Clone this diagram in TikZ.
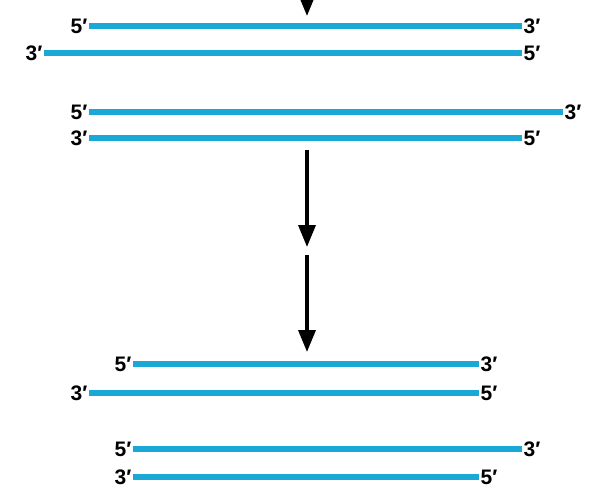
\documentclass[tikz,border=0pt]{standalone}
\usepackage{fontspec}
\setmainfont{Liberation Sans}
\usetikzlibrary{arrows.meta,calc}
\definecolor{strandcolor}{RGB}{26,168,214}

\tikzset{
  strand/.style={line width=6.5pt, draw=strandcolor},
  endlabel/.style={font=\bfseries\fontsize{21}{21}\selectfont, inner sep=1.5pt},
  steparrow/.style={line width=3.5pt, -{Triangle[length=22pt,width=17pt]}}
}

\begin{document}
\begin{tikzpicture}[x=1pt,y=-1pt]

\clip (0,0) rectangle (595,493);

% ================= STRANDS =================
\foreach \n/\xa/\xb/\y/\la/\lb in {
  1/89/522/26/5/3,  2/44/522/53/3/5,
  3/89/563/112/5/3, 4/89/522/138/3/5,
  5/133/479/364/5/3, 6/89/479/393/3/5,
  7/133/522/449/5/3, 8/133/479/477/3/5}
{
  \coordinate (s\n w) at (\xa,\y);
  \coordinate (s\n e) at (\xb,\y);
  \coordinate (s\n m) at (307,\y);
  \draw[strand] (s\n w) -- (s\n e);
  \node[endlabel, anchor=east] (s\n wl) at (s\n w) {\la′};
  \node[endlabel, anchor=west] (s\n el) at (s\n e) {\lb′};
}

% ================= ARROWS =================
\coordinate (top) at (307,-40);
\coordinate (midA) at (307,247);
\coordinate (midB) at (307,255);

\draw[steparrow, shorten >=10pt] (top) -- (s1m);
\draw[steparrow, shorten <=12pt] (s4m) -- (midA);
\draw[steparrow, shorten >=12pt] (midB) -- (s5m);

\end{tikzpicture}
\end{document}
